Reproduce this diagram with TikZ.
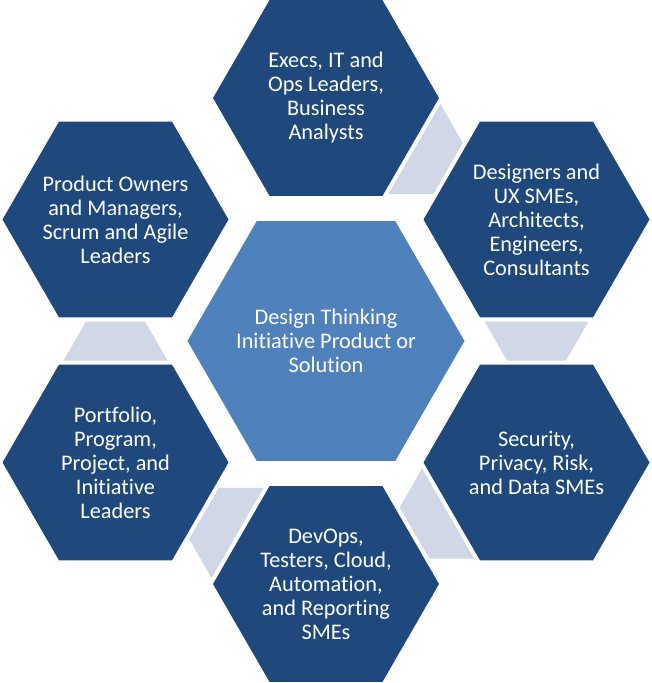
\documentclass[tikz,border=0pt]{standalone}
\usepackage{fontspec}
\setmainfont{Carlito}[Ligatures={NoCommon}]
\usetikzlibrary{shapes.geometric,calc}
\definecolor{hexdark}{RGB}{31,73,125}
\definecolor{hexmid}{RGB}{79,129,189}
\definecolor{connlight}{RGB}{208,216,232}
\tikzset{
  hexbase/.style={regular polygon, regular polygon sides=6, inner sep=0pt, outer sep=0pt},
  hexouter/.style={hexbase, fill=hexdark, minimum size=226pt},
  hexcenter/.style={hexbase, fill=hexmid, minimum size=277pt},
  hextext/.style={text=white, align=center, inner sep=0pt, font=\fontsize{22.3}{24}\selectfont},
  connshape/.style={fill=connlight}
}
\newcommand{\hexlink}[3]{%
  \coordinate (#3m) at ($(#1.center)!0.5!(#2.center)$);
  \coordinate (#3a) at ($(#3m)!19.5pt!(#1.center)$);
  \coordinate (#3b) at ($(#3m)!19.5pt!(#2.center)$);
  \fill[connshape] ($(#3a)!52pt!90:(#3m)$) -- ($(#3a)!52pt!-90:(#3m)$)
    -- ($(#3b)!29.5pt!90:(#3m)$) -- ($(#3b)!29.5pt!-90:(#3m)$) -- cycle;
}
\begin{document}
\begin{tikzpicture}[x=1pt,y=-1pt]
\useasboundingbox (0,0) rectangle (651,683);
\node[hexcenter] (core) at (326,341) {};
\node[hexouter] (top) at (326,98) {};
\node[hexouter] (ur) at (536.5,219.5) {};
\node[hexouter] (lr) at (536.5,462.5) {};
\node[hexouter] (bot) at (326,584) {};
\node[hexouter] (ll) at (115.5,462.5) {};
\node[hexouter] (ul) at (115.5,219.5) {};
\node[hextext] (coret) at (core.center) {Design Thinking\\Initiative Product or\\Solution};
\node[hextext] (topt) at (top.center) {Execs, IT and\\Ops Leaders,\\Business\\Analysts};
\node[hextext] (urt) at (ur.center) {Designers and\\UX SMEs,\\Architects,\\Engineers,\\Consultants};
\node[hextext] (lrt) at (lr.center) {Security,\\Privacy, Risk,\\and Data SMEs};
\node[hextext] (bott) at (bot.center) {DevOps,\\Testers, Cloud,\\Automation,\\and Reporting\\SMEs};
\node[hextext] (llt) at (ll.center) {Portfolio,\\Program,\\Project, and\\Initiative\\Leaders};
\node[hextext] (ult) at (ul.center) {Product Owners\\and Managers,\\Scrum and Agile\\Leaders};
\hexlink{top}{ur}{c1}
\hexlink{ur}{lr}{c2}
\hexlink{lr}{bot}{c3}
\hexlink{bot}{ll}{c4}
\hexlink{ll}{ul}{c5}
\end{tikzpicture}
\end{document}
